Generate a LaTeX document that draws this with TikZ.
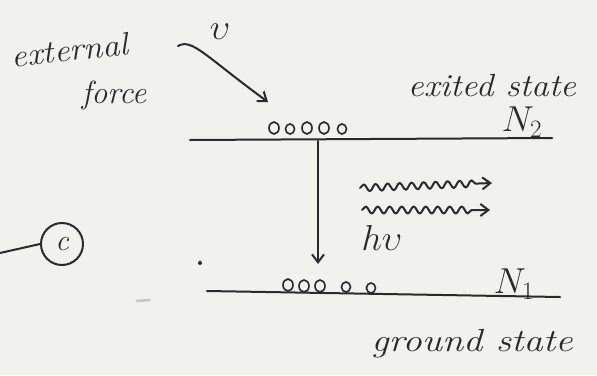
\documentclass[tikz,border=0pt]{standalone}
\usetikzlibrary{arrows.meta,decorations.pathmorphing,shapes.geometric}
\definecolor{paper}{HTML}{F1F1EE}
\definecolor{ink}{HTML}{2A2A2A}
\begin{document}
\begin{tikzpicture}[x=1pt,y=-1pt,
  pen/.style={draw=ink, line width=2pt, line cap=round, line join=round},
  hand/.style={text=ink, font=\itshape\fontsize{32}{34}\selectfont, inner sep=0pt},
  big/.style={text=ink, font=\fontsize{24}{26}\selectfont, inner sep=0pt, scale=1.45},
  atom/.style={ellipse, draw=ink, line width=1.6pt, minimum width=10pt, minimum height=12pt, inner sep=0pt},
  tip/.style={-{Straight Barb[length=8pt,width=12pt]}},
  wave/.style={decorate, decoration={snake, amplitude=3.5pt, segment length=12pt, post length=16pt}},
]
\fill[paper] (0,0) rectangle (597,375);
\useasboundingbox (0,0) rectangle (597,375);

% labels of the external pumping
\node[hand, rotate=6, xscale=1.08] (ext) at (70,50) {external};
\node[hand] (force) at (114,95) {force};
\node[big] (nuA) at (220,32) {$\upsilon$};

% pumping arrow
\coordinate (fs) at (178,46);
\coordinate (fe) at (268,102);
\draw[pen,tip] (fs) .. controls (192,38) and (205,56) .. (fe);

% excited level
\coordinate (e1) at (190,140);
\coordinate (e2) at (552,138);
\draw[pen] (e1) -- (e2);
\node[atom] (a1) at (274,128) {};
\node[atom, minimum height=10pt, minimum width=9pt] (a2) at (290,129) {};
\node[atom] (a3) at (307,128) {};
\node[atom] (a4) at (324,128) {};
\node[atom, minimum height=10pt, minimum width=9pt] (a5) at (342,129) {};
\node[hand, xscale=1.1] (exs) at (492,86) {exited state};
\node[big] (n2) at (522,122) {$N_2$};

% downward transition
\coordinate (d1) at (318,141);
\coordinate (d2) at (318,264);
\draw[pen,tip] (d1) -- (d2);

% emitted photons
\coordinate (w1s) at (360,188);
\coordinate (w1e) at (492,183);
\coordinate (w2s) at (362,210);
\coordinate (w2e) at (490,210);
\draw[pen,tip,wave] (w1s) -- (w1e);
\draw[pen,tip,wave] (w2s) -- (w2e);
\node[big] (hnu) at (382,238) {$h\upsilon$};

% ground level
\coordinate (g1) at (207,291);
\coordinate (g2) at (560,297);
\draw[pen] (g1) -- (g2);
\node[atom] (b1) at (288,285) {};
\node[atom] (b2) at (304,286) {};
\node[atom] (b3) at (320,286) {};
\node[atom, minimum height=10pt, minimum width=9pt] (b4) at (346,287) {};
\node[atom, minimum height=10pt, minimum width=9pt] (b5) at (371,288) {};
\node[big] (n1) at (514,284) {$N_1$};
\node[hand, xscale=1.2] (gst) at (472,344) {ground state};

% stray marks
\node[circle, fill=ink, inner sep=0pt, minimum size=4pt] (dot) at (200,263) {};
\draw[gray!45, line width=2.5pt] (136,301) -- (150,300);

% item marker
\node[circle, pen, minimum size=42pt, inner sep=0pt, font=\itshape\fontsize{30}{32}\selectfont, text=ink] (c) at (62,244) {c};
\coordinate (cl) at (0,253);
\draw[pen] (cl) -- (c.west);
\end{tikzpicture}
\end{document}
